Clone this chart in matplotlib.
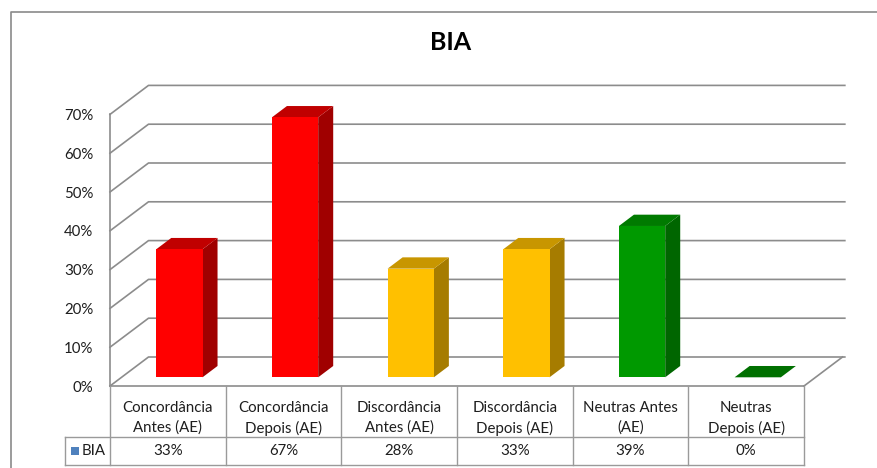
import matplotlib.pyplot as plt
from matplotlib.patches import Polygon, Rectangle
from matplotlib.lines import Line2D
from matplotlib.transforms import blended_transform_factory

plt.rcParams['font.family'] = ['Lato', 'DejaVu Sans']

# data
categories = ["Concordância\nAntes (AE)", "Concordância\nDepois (AE)",
              "Discordância\nAntes (AE)", "Discordância\nDepois (AE)",
              "Neutras Antes\n(AE)", "Neutras\nDepois (AE)"]
values = [0.33, 0.67, 0.28, 0.33, 0.39, 0.00]
series_name = "BIA"
yticks = [0.0, 0.1, 0.2, 0.3, 0.4, 0.5, 0.6, 0.7]

# face colours (front, top, side)
front_colors = ['#ff0000', '#ff0000', '#ffc000', '#ffc000', '#009900', '#009900']
top_colors = ['#c00000', '#c00000', '#c89600', '#c89600', '#007a00', '#007000']
side_colors = ['#a00000', '#a00000', '#a67c00', '#a67c00', '#006600', '#006600']
grid_color = '#8c8c8c'
text_color = '#1e1e1e'
fs = 10.8

W, H = 878, 468
fig = plt.figure(figsize=(W / 100, H / 100), dpi=100)

# front plane of the plot area
col_px = 115.67
val_px = 388.0
ax = fig.add_axes([110 / W, 1 - 386 / H, 740 / W, 311 / H])
ax.set_xlim(-0.5, -0.5 + 740 / col_px)
ax.set_ylim(0, 311 / val_px)
n = len(values)

# depth of the floor, in data units
DX = 38.5 / col_px
DY = 29.0 / val_px
f0, f1 = 0.3, 0.69
bw = 0.4

# back wall gridlines and the side wall diagonals
for v in yticks:
    ax.plot([-0.5, -0.5 + DX, n - 0.5 + DX + 0.02], [v, v + DY, v + DY],
            color=grid_color, lw=1.2, zorder=1, clip_on=False)
ax.plot([n - 0.5, n - 0.5 + DX], [0, DY], color=grid_color, lw=1.2,
        zorder=1, clip_on=False)

# 3d bars
for i, v in enumerate(values):
    x0 = i - bw / 2 + f0 * DX
    y0 = f0 * DY
    ddx = (f1 - f0) * DX
    ddy = (f1 - f0) * DY
    side = Polygon([(x0 + bw, y0), (x0 + bw + ddx, y0 + ddy),
                    (x0 + bw + ddx, y0 + v + ddy), (x0 + bw, y0 + v)],
                   closed=True, fc=side_colors[i], ec='none', zorder=3)
    top = Polygon([(x0, y0 + v), (x0 + bw, y0 + v),
                   (x0 + bw + ddx, y0 + v + ddy), (x0 + ddx, y0 + v + ddy)],
                  closed=True, fc=top_colors[i], ec='none', zorder=3)
    front = Rectangle((x0, y0), bw, v, fc=front_colors[i], ec='none', zorder=4)
    ax.add_patch(side)
    ax.add_patch(top)
    ax.add_patch(front)

ax.set_yticks(yticks)
ax.set_yticklabels([f"{int(round(t * 100))}%" for t in yticks])
ax.tick_params(axis='y', length=0, pad=12, labelsize=fs, labelcolor=text_color)
for lab in ax.get_yticklabels():
    lab.set_y(lab.get_position()[1])
ax.set_xticks([])
for s in ['top', 'right']:
    ax.spines[s].set_visible(False)
ax.spines['left'].set_bounds(0, yticks[-1])
ax.spines['bottom'].set_bounds(-0.5, n - 0.5)
for s in ['left', 'bottom']:
    ax.spines[s].set_color(grid_color)
    ax.spines[s].set_linewidth(1.2)
ax.patch.set_visible(False)

# data table under the floor
tr = blended_transform_factory(ax.transData, fig.transFigure)
line_color = '#9a9a9a'
row_mid = 1 - 437 / H
row_bot = 1 - 465 / H
row_top = 1 - 386 / H
x_left = -0.5 - 45 / col_px
for y in [row_mid, row_bot]:
    fig.add_artist(Line2D([x_left, n - 0.5], [y, y], transform=tr,
                          color=line_color, lw=1.0))
for k in range(n + 1):
    fig.add_artist(Line2D([k - 0.5, k - 0.5], [row_top, row_bot], transform=tr,
                          color=line_color, lw=1.0))
fig.add_artist(Line2D([x_left, x_left], [row_mid, row_bot], transform=tr,
                      color=line_color, lw=1.0))

for i, (lab, v) in enumerate(zip(categories, values)):
    l1, l2 = lab.split("\n")
    fig.text(i, 1 - 408 / H, l1, transform=tr, ha='center', va='center',
             fontsize=fs, color=text_color)
    fig.text(i, 1 - 428 / H, l2, transform=tr, ha='center', va='center',
             fontsize=fs, color=text_color)
    fig.text(i, 1 - 451 / H, f"{int(round(v * 100))}%", transform=tr,
             ha='center', va='center', fontsize=fs, color=text_color)

# legend key in the row header
fig.add_artist(Rectangle((71 / W, 1 - 455 / H), 8 / W, 8 / H,
                         transform=fig.transFigure, fc='#4f81bd', ec='none'))
fig.text(82 / W, 1 - 451 / H, series_name, ha='left', va='center',
         fontsize=fs, color=text_color)

# title
fig.text(451 / W, 1 - 43 / H, "BIA", ha='center', va='center',
         fontsize=18, fontweight='bold', color='black')

# chart border
fig.add_artist(Line2D([11 / W, 11 / W, 1.0], [0.0, 1 - 12 / H, 1 - 12 / H],
                      transform=fig.transFigure, color='#8a8a8a', lw=1.2))

fig.savefig('out.png', dpi=100, facecolor='white')
